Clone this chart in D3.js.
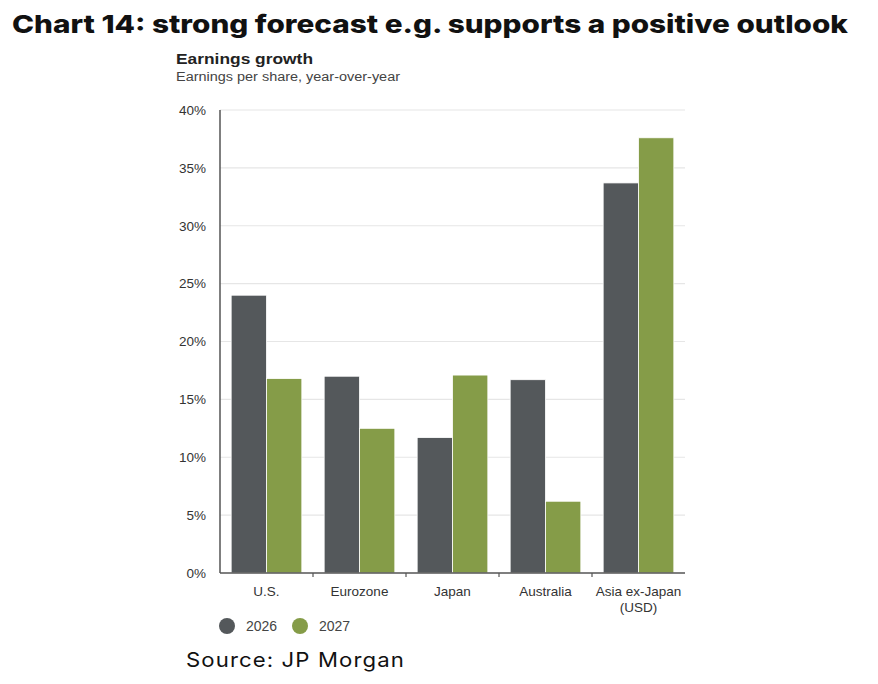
<!DOCTYPE html>
<html><head><meta charset="utf-8">
<script src="https://cdn.jsdelivr.net/npm/d3@7"></script>
<style>body{margin:0;background:#fff}svg{display:block}</style>
</head><body>
<script>
const categories = ["U.S.", "Eurozone", "Japan", "Australia", "Asia ex-Japan\n(USD)"];
const seriesNames = ["2026", "2027"];
const values2026 = [24.0, 17.0, 11.7, 16.7, 33.7];
const values2027 = [16.8, 12.5, 17.1, 6.2, 37.6];
const yTicks = [0, 5, 10, 15, 20, 25, 30, 35, 40];
const colors = ["#54585b", "#859c48"];

const W = 878, H = 684;
const svg = d3.select("body").append("svg").attr("width", W).attr("height", H);
const sans = "'Liberation Sans', Arial, sans-serif";

svg.append("text").attr("x", 12).attr("y", 33)
  .attr("font-family", "Inter, Lato, sans-serif").attr("font-weight", 800)
  .attr("font-size", 25).attr("fill", "#111")
  .attr("textLength", 836).attr("lengthAdjust", "spacingAndGlyphs")
  .text("Chart 14: strong forecast e.g. supports a positive outlook");

svg.append("text").attr("x", 176).attr("y", 64)
  .attr("font-family", sans).attr("font-weight", 700)
  .attr("font-size", 15.5).attr("fill", "#222")
  .attr("textLength", 137).attr("lengthAdjust", "spacingAndGlyphs")
  .text("Earnings growth");
svg.append("text").attr("x", 176).attr("y", 81)
  .attr("font-family", sans)
  .attr("font-size", 12).attr("fill", "#444")
  .attr("textLength", 224).attr("lengthAdjust", "spacingAndGlyphs")
  .text("Earnings per share, year-over-year");

const pLeft = 220, pRight = 685, pTop = 110, pBottom = 573;
const x = d3.scaleBand().domain(categories).range([pLeft, pRight]).paddingInner(0.24).paddingOuter(0.12);
const x1 = d3.scaleBand().domain(seriesNames).range([0, x.bandwidth()]).padding(0);
const y = d3.scaleLinear().domain([0, 40]).range([pBottom, pTop]);

const g = svg.append("g");
g.selectAll("line.grid").data(yTicks.filter(d => d > 0)).join("line")
  .attr("x1", pLeft).attr("x2", pRight).attr("y1", d => y(d)).attr("y2", d => y(d))
  .attr("stroke", "#e6e6e6").attr("stroke-width", 1.2);

const yAxis = d3.axisLeft(y).tickValues(yTicks).tickFormat(d => d + "%").tickSize(0).tickPadding(14);
const ya = svg.append("g").attr("transform", `translate(${pLeft},0)`).call(yAxis);
ya.select(".domain").remove();
ya.selectAll("text").attr("font-family", sans)
  .attr("font-size", 13.5).attr("fill", "#333");

const data = categories.map((c, i) => ({c, vals: [values2026[i], values2027[i]]}));
const groups = svg.append("g").selectAll("g").data(data).join("g")
  .attr("transform", d => `translate(${x(d.c)},0)`);
groups.selectAll("rect").data(d => d.vals.map((v, j) => ({v, s: seriesNames[j], j}))).join("rect")
  .attr("x", d => x1(d.s)).attr("width", x1.bandwidth())
  .attr("y", d => y(d.v)).attr("height", d => y(0) - y(d.v))
  .attr("fill", d => colors[d.j]).attr("stroke", "#fff").attr("stroke-width", 0.8);

svg.append("line").attr("x1", pLeft).attr("x2", pLeft).attr("y1", pTop).attr("y2", pBottom)
  .attr("stroke", "#555").attr("stroke-width", 1.5);
svg.append("line").attr("x1", pLeft).attr("x2", pRight).attr("y1", pBottom).attr("y2", pBottom)
  .attr("stroke", "#555").attr("stroke-width", 1.5);
const bounds = categories.slice(1).map(c => x(c) - x.step() * x.paddingInner() / 2);
svg.selectAll("line.xt").data(bounds).join("line")
  .attr("x1", d => d).attr("x2", d => d).attr("y1", pBottom).attr("y2", pBottom + 4)
  .attr("stroke", "#555").attr("stroke-width", 1.2);

const lab = svg.append("g").selectAll("text").data(categories).join("text")
  .attr("x", d => x(d) + x.bandwidth() / 2).attr("y", 596)
  .attr("text-anchor", "middle")
  .attr("font-family", sans)
  .attr("font-size", 13.5).attr("fill", "#333");
lab.each(function(d) {
  const parts = d.split("\n");
  d3.select(this).selectAll("tspan").data(parts).join("tspan")
    .attr("x", x(d) + x.bandwidth() / 2).attr("dy", (p, i) => i ? 16 : 0).text(p => p);
});

const legX = [227, 300];
seriesNames.forEach((s, i) => {
  svg.append("circle").attr("cx", legX[i]).attr("cy", 626).attr("r", 8).attr("fill", colors[i]);
  svg.append("text").attr("x", legX[i] + 19).attr("y", 631)
    .attr("font-family", sans)
    .attr("font-size", 14).attr("fill", "#444").text(s);
});

svg.append("text").attr("x", 186).attr("y", 667)
  .attr("font-family", "Inter, Lato, sans-serif")
  .attr("font-size", 20).attr("fill", "#111").attr("letter-spacing", 1)
  .attr("textLength", 219).attr("lengthAdjust", "spacingAndGlyphs")
  .text("Source: JP Morgan");
</script>
</body></html>
